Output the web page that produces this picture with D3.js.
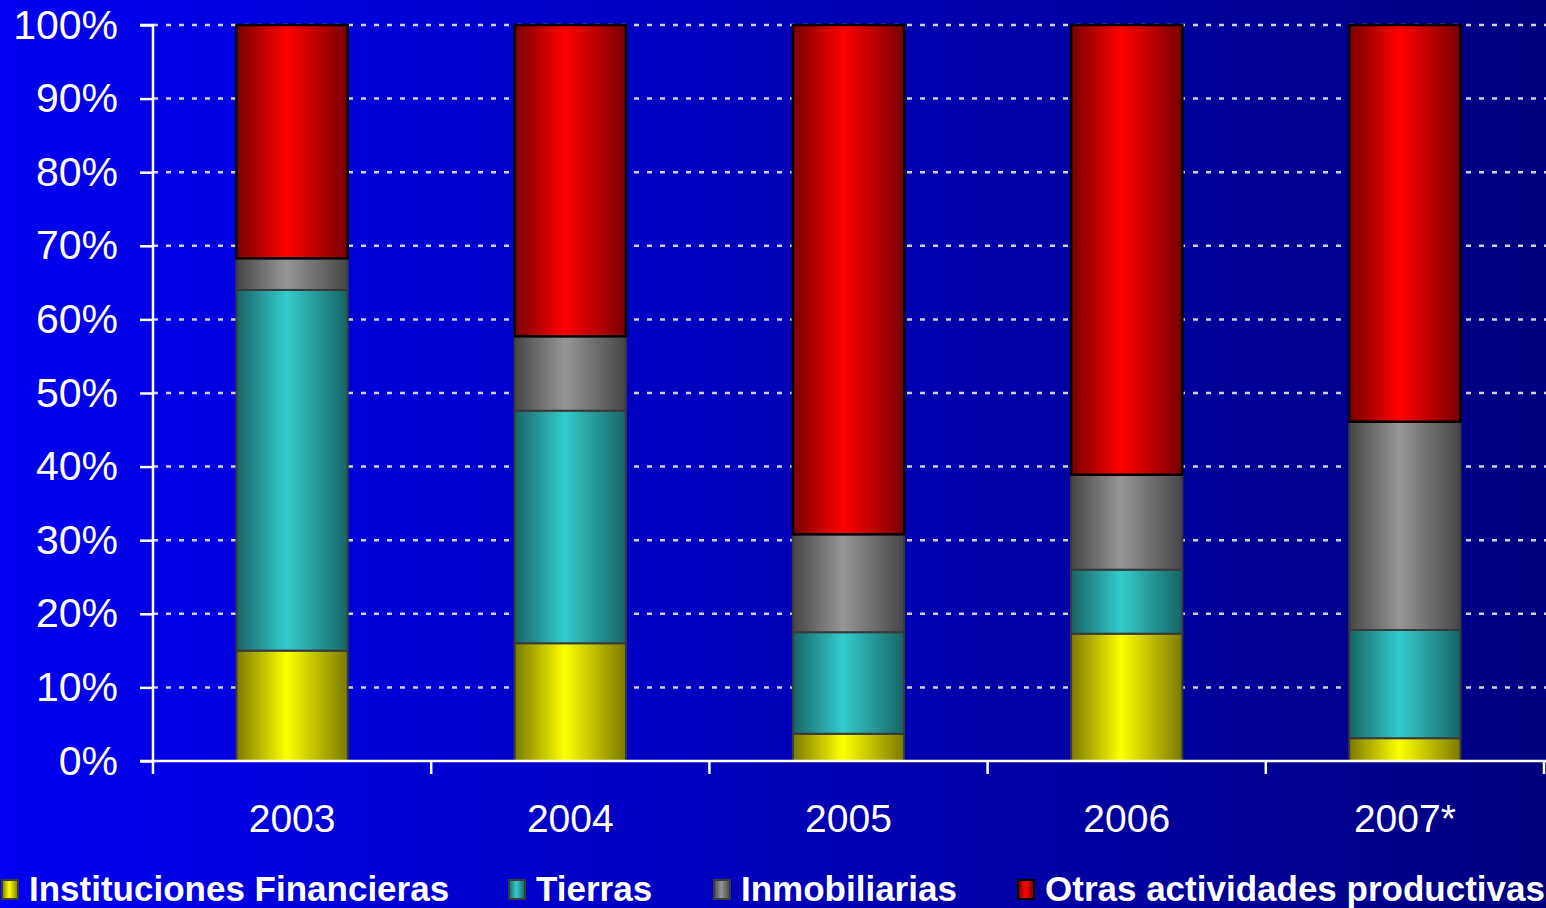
<!DOCTYPE html>
<html>
<head>
<meta charset="utf-8">
<script src="https://cdn.jsdelivr.net/npm/d3@7"></script>
<style>
  html, body { margin: 0; padding: 0; overflow: hidden; }
  svg { display: block; }
</style>
</head>
<body>
<div id="chart"></div>
<script>
const width = 1546;
const height = 908;

// data (percent of total)
const years = ["2003", "2004", "2005", "2006", "2007*"];
const seriesNames = ["Instituciones Financieras", "Tierras", "Inmobiliarias", "Otras actividades productivas"];
const financieras = [15.0, 16.0, 3.7, 17.3, 3.1];
const tierras = [49.0, 31.6, 13.8, 8.7, 14.7];
const inmobiliarias = [4.3, 10.1, 13.3, 12.9, 28.3];
const otras = [31.7, 42.3, 69.2, 61.1, 53.9];
const yTicks = [0, 10, 20, 30, 40, 50, 60, 70, 80, 90, 100];

// edge / centre colours for the cylinder shading
const darkColors = ["#7a7a00", "#186464", "#464646", "#780000"];
const lightColors = ["#ffff00", "#33cccc", "#969696", "#ff0000"];
const strokeColors = ["#3a3a3a", "#3a3a3a", "#3a3a3a", "#000000"];

const margin = { top: 25, right: 2, bottom: 147, left: 153 };
const innerW = width - margin.left - margin.right;
const innerH = height - margin.top - margin.bottom;

const table = years.map((y, i) => ({
    year: y,
    s0: financieras[i],
    s1: tierras[i],
    s2: inmobiliarias[i],
    s3: otras[i]
}));

const keys = ["s0", "s1", "s2", "s3"];
const stacked = d3.stack().keys(keys)(table);

const svg = d3.select("#chart")
    .append("svg")
    .attr("width", width)
    .attr("height", height);

const defs = svg.append("defs");

// background gradient blue -> navy
const bg = defs.append("linearGradient")
    .attr("id", "bg")
    .attr("x1", "0%").attr("x2", "100%")
    .attr("y1", "0%").attr("y2", "0%");
bg.append("stop").attr("offset", "0%").attr("stop-color", "#0000f2");
bg.append("stop").attr("offset", "100%").attr("stop-color", "#000080");

keys.forEach((k, i) => {
    const g = defs.append("linearGradient")
        .attr("id", "grad" + i)
        .attr("x1", "0%").attr("x2", "100%")
        .attr("y1", "0%").attr("y2", "0%");
    g.append("stop").attr("offset", "0%").attr("stop-color", darkColors[i]);
    g.append("stop").attr("offset", "45%").attr("stop-color", lightColors[i]);
    g.append("stop").attr("offset", "100%").attr("stop-color", darkColors[i]);
});

svg.append("rect")
    .attr("width", width)
    .attr("height", height)
    .attr("fill", "url(#bg)");

const x = d3.scaleBand()
    .domain(years)
    .range([0, innerW])
    .paddingInner(0.6)
    .paddingOuter(0.3);

const y = d3.scaleLinear()
    .domain([0, 100])
    .range([innerH, 0]);

const plot = svg.append("g")
    .attr("transform", `translate(${margin.left}, ${margin.top})`);

// dotted grid lines
plot.append("g")
    .selectAll("line")
    .data(yTicks.filter(t => t > 0))
    .enter()
    .append("line")
    .attr("x1", 0)
    .attr("x2", innerW + margin.right)
    .attr("y1", d => y(d))
    .attr("y2", d => y(d))
    .attr("stroke", "#d0d0d0")
    .attr("stroke-width", 2.5)
    .attr("stroke-dasharray", "5 8");

// stacked bars
const layers = plot.append("g")
    .selectAll("g")
    .data(stacked)
    .enter()
    .append("g")
    .attr("fill", (d, i) => `url(#grad${i})`)
    .attr("stroke", (d, i) => strokeColors[i])
    .attr("stroke-width", (d, i) => i === 3 ? 2.5 : 2);

layers.selectAll("rect")
    .data(d => d)
    .enter()
    .append("rect")
    .attr("x", d => x(d.data.year))
    .attr("width", x.bandwidth())
    .attr("y", d => y(d[1]))
    .attr("height", d => y(d[0]) - y(d[1]));

// y axis
const axisY = d3.axisLeft(y)
    .tickValues(yTicks)
    .tickFormat(d => d + "%")
    .tickSize(13)
    .tickPadding(22);

const gy = plot.append("g").call(axisY);
gy.select(".domain").attr("stroke", "#ffffff").attr("stroke-width", 2.5)
    .attr("d", `M-13,0H0V${innerH}`);
gy.selectAll(".tick line").attr("stroke", "#ffffff").attr("stroke-width", 2.5);
gy.selectAll(".tick text")
    .attr("fill", "#ffffff")
    .style("font-family", "'Liberation Sans', Arial, sans-serif")
    .style("font-size", "41px");

// x axis: line plus ticks at band boundaries
const gx = plot.append("g")
    .attr("transform", `translate(0, ${innerH})`);
gx.append("line")
    .attr("x1", -13)
    .attr("x2", innerW + margin.right)
    .attr("stroke", "#ffffff")
    .attr("stroke-width", 2.5);
const bounds = years.map(d => x(d) - x.step() * x.paddingInner() / 2);
bounds[0] = 0;
bounds.push(innerW);
gx.selectAll(".bt")
    .data(bounds)
    .enter()
    .append("line")
    .attr("class", "bt")
    .attr("x1", d => d)
    .attr("x2", d => d)
    .attr("y1", 0)
    .attr("y2", 13)
    .attr("stroke", "#ffffff")
    .attr("stroke-width", 2.5);
gx.selectAll(".lbl")
    .data(years)
    .enter()
    .append("text")
    .attr("class", "lbl")
    .attr("x", d => x(d) + x.bandwidth() / 2)
    .attr("y", 57)
    .attr("dy", "0.35em")
    .attr("text-anchor", "middle")
    .attr("fill", "#ffffff")
    .style("font-family", "'Liberation Sans', Arial, sans-serif")
    .style("font-size", "39px")
    .text(d => d);

// legend
const legendX = [2, 509, 714, 1018];
const legend = svg.append("g")
    .attr("transform", "translate(0, 888)");
const items = legend.selectAll("g")
    .data(seriesNames)
    .enter()
    .append("g")
    .attr("transform", (d, i) => `translate(${legendX[i]}, 0)`);
items.append("rect")
    .attr("x", 0)
    .attr("y", -8)
    .attr("width", 16)
    .attr("height", 19)
    .attr("fill", (d, i) => `url(#grad${i})`)
    .attr("stroke", (d, i) => i === 3 ? "#000000" : "#3a3a3a")
    .attr("stroke-width", 2);
items.append("text")
    .attr("x", 27)
    .attr("y", 0)
    .attr("dy", "0.36em")
    .attr("fill", "#ffffff")
    .style("font-family", "'Liberation Sans Narrow', 'Arial Narrow', sans-serif")
    .style("font-weight", "bold")
    .style("font-size", "35px")
    .text(d => d);
</script>
</body>
</html>
